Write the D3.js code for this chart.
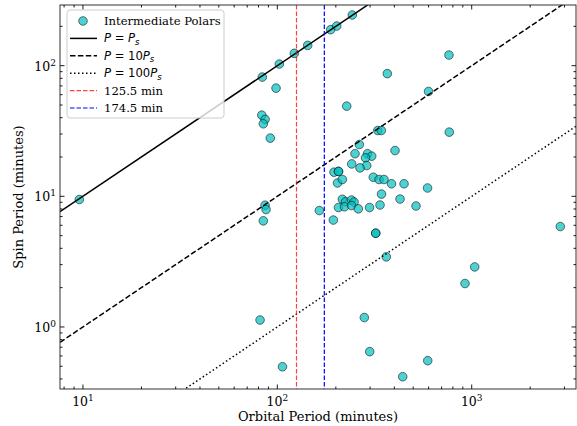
<!DOCTYPE html>
<html><head><meta charset="utf-8">
<script src="https://cdn.jsdelivr.net/npm/d3@7"></script>
<style>body{margin:0;background:#fff}</style>
</head><body>
<svg id="c" width="577" height="426"></svg>
<script>
const orbitalPeriod = [9.58, 83.7, 98.5, 102.4, 122.3, 143.3, 188.2, 202.1, 243.1, 227.5,
  83.2, 86.5, 84.7, 92.0, 86.5, 87.5, 84.7, 81.5, 106.3, 764,
  368, 599.7, 328.6, 342.8, 766.8, 264.1, 403.2, 251, 291.1, 305.9,
  284.2, 241.4, 288.4, 266.3, 195.7, 206.4, 206.4, 204, 216, 311.7,
  333.6, 353.9, 386.8, 448.6, 592.6, 343.6, 427.8, 517, 216, 224.3,
  240.8, 248.1, 206.4, 221.6, 240.8, 261, 298.1, 337.6, 164.5, 194.2,
  320.8, 320.8, 363.6, 2856, 1036, 923.8, 280.2, 298.8, 594, 441.7];
const spinPeriod = [9.45, 81.8, 67.3, 102.9, 124.3, 143, 188.7, 201.1, 244.3, 49,
  41.8, 38.8, 35.9, 27.9, 8.55, 7.92, 6.49, 1.13, 0.496, 120.6,
  86.9, 63.5, 31.9, 31.9, 31.0, 24.9, 22.4, 21.2, 21.2, 20.3,
  19.7, 17.7, 17.2, 16.5, 15.3, 15.5, 15.5, 12.65, 13.45, 14.0,
  13.45, 13.45, 12.47, 12.47, 11.58, 10.4, 9.53, 8.43, 9.50, 9.08,
  9.37, 9.04, 8.21, 8.31, 8.50, 8.02, 8.21, 8.58, 7.78, 6.58,
  5.22, 5.22, 3.44, 5.87, 2.88, 2.15, 1.18, 0.647, 0.552, 0.416];
const ratioValues = [1, 10, 100];
const ratioLabels = ["", "10", "100"];
const periodGapValues = [125.5, 174.5];
const periodGapLabels = ["125.5 min", "174.5 min"];
const xTickExponents = [1, 2, 3];
const yTickExponents = [0, 1, 2];
const xDomain = [7.62, 3440];
const yDomain = [0.335, 291.4];

const svg = d3.select("#c");
const L = 60, R = 576, T = 5, B = 389;
const x = d3.scaleLog().domain(xDomain).range([L, R]);
const y = d3.scaleLog().domain(yDomain).range([B, T]);
const serif = "DejaVu Serif";

svg.append("defs").append("clipPath").attr("id", "clip")
  .append("rect").attr("x", L).attr("y", T).attr("width", R - L).attr("height", B - T);

const plot = svg.append("g").attr("clip-path", "url(#clip)");

// points
plot.selectAll("circle.pt").data(orbitalPeriod.map((o, i) => [o, spinPeriod[i]]))
  .enter().append("circle").attr("class", "pt")
  .attr("cx", d => x(d[0])).attr("cy", d => y(d[1])).attr("r", 4.3)
  .attr("fill", "#00bfbf").attr("fill-opacity", 0.7)
  .attr("stroke", "#000").attr("stroke-opacity", 0.6).attr("stroke-width", 0.9);

// ratio lines
const dashes = ["none", "5.5,2.4", "1.5,2.5"];
ratioValues.forEach((r, i) => {
  const xs = [xDomain[0], xDomain[1]];
  plot.append("line")
    .attr("x1", x(xs[0])).attr("y1", y(xs[0] / r))
    .attr("x2", x(xs[1])).attr("y2", y(xs[1] / r))
    .attr("stroke", "#000").attr("stroke-width", 1.5)
    .attr("stroke-dasharray", dashes[i]);
});
const vColors = ["red", "blue"];
const vOp = [0.75, 1];
periodGapValues.forEach((v, i) => {
  plot.append("line").attr("x1", x(v)).attr("x2", x(v)).attr("y1", T).attr("y2", B)
    .attr("stroke", vColors[i]).attr("stroke-opacity", vOp[i]).attr("stroke-width", 1.2)
    .attr("stroke-dasharray", "4.5,2");
});

// frame
svg.append("rect").attr("x", L).attr("y", T).attr("width", R - L).attr("height", B - T)
  .attr("fill", "none").attr("stroke", "#333").attr("stroke-width", 1);

// ticks
const tg = svg.append("g").attr("stroke", "#000").attr("stroke-width", 0.9);
function minorVals(dom) {
  const out = [];
  for (let e = -2; e <= 4; e++) for (let m = 1; m <= 9; m++) {
    const v = m * Math.pow(10, e);
    if (v >= dom[0] && v <= dom[1]) out.push([v, m === 1]);
  }
  return out;
}
minorVals(xDomain).forEach(([v, maj]) => {
  const len = maj ? 4.5 : 2.5, px = x(v);
  tg.append("line").attr("x1", px).attr("x2", px).attr("y1", B).attr("y2", B - len);
  tg.append("line").attr("x1", px).attr("x2", px).attr("y1", T).attr("y2", T + len);
});
minorVals(yDomain).forEach(([v, maj]) => {
  const len = maj ? 4.5 : 2.5, py = y(v);
  tg.append("line").attr("y1", py).attr("y2", py).attr("x1", L).attr("x2", L + len);
  tg.append("line").attr("y1", py).attr("y2", py).attr("x1", R).attr("x2", R - len);
});

// tick labels
xTickExponents.forEach(e => {
  const t = svg.append("text").attr("x", x(Math.pow(10, e))).attr("y", 406)
    .attr("text-anchor", "middle").attr("font-family", serif).attr("font-size", 12.5).attr("fill", "#000");
  t.append("tspan").text("10");
  t.append("tspan").attr("dy", -5).attr("font-size", 9).text(String(e));
});
yTickExponents.forEach(e => {
  const t = svg.append("text").attr("x", 56).attr("y", y(Math.pow(10, e)) + 5)
    .attr("text-anchor", "end").attr("font-family", serif).attr("font-size", 12.5).attr("fill", "#000");
  t.append("tspan").text("10");
  t.append("tspan").attr("dy", -5).attr("font-size", 9).text(String(e));
});

// axis labels
svg.append("text").attr("x", (L + R) / 2).attr("y", 421).attr("text-anchor", "middle")
  .attr("font-family", serif).attr("font-size", 13).text("Orbital Period (minutes)");
svg.append("text").attr("transform", `translate(23,${(T + B) / 2}) rotate(-90)`)
  .attr("text-anchor", "middle").attr("font-family", serif).attr("font-size", 13)
  .text("Spin Period (minutes)");

// legend
const lg = svg.append("g");
lg.append("rect").attr("x", 67).attr("y", 10).attr("width", 157).attr("height", 108).attr("rx", 3)
  .attr("fill", "#fff").attr("fill-opacity", 0.8).attr("stroke", "#ccc").attr("stroke-width", 1);
const rowY = i => 21 + i * 17.4;
const hx1 = 70, hx2 = 97, tx = 104;
const lfs = 11.6;
lg.append("circle").attr("cx", 83).attr("cy", rowY(0)).attr("r", 4.3)
  .attr("fill", "#00bfbf").attr("fill-opacity", 0.7)
  .attr("stroke", "#000").attr("stroke-opacity", 0.6).attr("stroke-width", 0.9);
lg.append("text").attr("x", tx).attr("y", rowY(0) + 4).attr("font-family", serif).attr("font-size", lfs)
  .text("Intermediate Polars");
ratioValues.forEach((r, i) => {
  const yy = rowY(i + 1);
  lg.append("line").attr("x1", hx1).attr("x2", hx2).attr("y1", yy).attr("y2", yy)
    .attr("stroke", "#000").attr("stroke-width", 1.5).attr("stroke-dasharray", dashes[i]);
  const t = lg.append("text").attr("x", tx).attr("y", yy + 4)
    .attr("font-family", "DejaVu Sans").attr("font-size", lfs);
  t.append("tspan").attr("font-style", "italic").text("P");
  t.append("tspan").text(" = " + ratioLabels[i]);
  t.append("tspan").attr("font-style", "italic").text("P");
  t.append("tspan").attr("font-style", "italic").attr("font-size", 8.5).attr("dy", 2.5).text("s");
});
periodGapValues.forEach((v, i) => {
  const yy = rowY(i + 4);
  lg.append("line").attr("x1", hx1).attr("x2", hx2).attr("y1", yy).attr("y2", yy)
    .attr("stroke", vColors[i]).attr("stroke-opacity", vOp[i]).attr("stroke-width", 1.2)
    .attr("stroke-dasharray", "4.5,2");
  lg.append("text").attr("x", tx).attr("y", yy + 4).attr("font-family", serif).attr("font-size", lfs)
    .text(periodGapLabels[i]);
});
</script>
</body></html>
